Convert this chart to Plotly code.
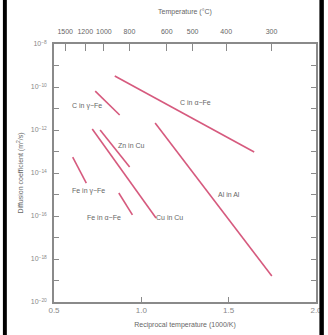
import plotly.graph_objects as go

# ---- data ----
series_names = ["C in α−Fe", "C in γ−Fe", "Zn in Cu", "Cu in Cu", "Al in Al", "Fe in γ−Fe", "Fe in α−Fe"]
x_start = [0.848, 0.736, 0.764, 0.719, 1.079, 0.607, 0.871]
x_end = [1.646, 0.876, 0.933, 1.084, 1.747, 0.685, 0.949]
logD_start = [-9.49, -10.19, -12.00, -11.95, -11.67, -13.26, -14.93]
logD_end = [-13.02, -11.30, -13.72, -16.09, -18.79, -14.47, -15.95]

label_x = [1.309, 0.691, 0.944, 1.163, 1.500, 0.697, 0.787]
label_logD = [-10.74, -10.88, -12.70, -16.05, -15.02, -14.84, -16.09]

x_ticks = [0.5, 1.0, 1.5, 2.0]
y_major_exponents = [-20, -18, -16, -14, -12, -10, -8]
y_minor_exponents = [-19, -17, -15, -13, -11, -9]
temps_C = [1500, 1200, 1000, 800, 600, 500, 400, 300]

# ---- figure ----
line_color = "#d65a7e"
text_color = "#666666"
axis_color = "#8a8a8a"
font_family = "Liberation Sans, Arial, sans-serif"

fig = go.Figure()
for i, name in enumerate(series_names):
    fig.add_trace(go.Scatter(
        x=[x_start[i], x_end[i]],
        y=[10 ** logD_start[i], 10 ** logD_end[i]],
        mode="lines", line=dict(color=line_color, width=1.6),
        name=name, showlegend=False, hoverinfo="skip"))

# invisible trace to hold the top temperature axis
fig.add_trace(go.Scatter(x=[0.5, 2.0], y=[1e-20, 1e-8], xaxis="x2", mode="markers",
                         marker=dict(opacity=0), showlegend=False, hoverinfo="skip"))

for i, name in enumerate(series_names):
    fig.add_annotation(x=label_x[i], y=label_logD[i], text=name, showarrow=False,
                       font=dict(size=7, color=text_color, family=font_family))

top_pos = [1000.0 / (t + 273.0) for t in temps_C]

fig.update_layout(
    width=328, height=335,
    margin=dict(l=54, r=6, t=44, b=33),
    paper_bgcolor="white", plot_bgcolor="white",
    font=dict(family=font_family, size=7, color=text_color),
    xaxis=dict(range=[0.5, 2.0], tickvals=x_ticks, ticktext=["0.5", "1.0", "1.5", "2.0"],
               ticks="inside", ticklen=5, tickcolor=axis_color, showgrid=False, zeroline=False,
               showline=True, linecolor=axis_color, linewidth=1.5, mirror=True,
               title=dict(text="Reciprocal temperature (1000/K)", standoff=8,
                          font=dict(size=7, color=text_color)),
               tickfont=dict(size=8, color="#888888")),
    xaxis2=dict(range=[0.5, 2.0], overlaying="x", side="top", tickvals=top_pos,
                ticktext=[str(t) for t in temps_C], ticks="inside", ticklen=7, tickangle=0,
                ticklabelstandoff=8,
                tickcolor=axis_color, showgrid=False, zeroline=False,
                title=dict(text="Temperature (°C)", standoff=12, font=dict(size=7, color=text_color)),
                tickfont=dict(size=7, color=text_color)),
    yaxis=dict(type="log", range=[-20, -8], tickvals=[10 ** e for e in y_major_exponents],
               ticktext=[f"10<sup>−{-e}</sup>" for e in y_major_exponents],
               ticks="inside", ticklen=5, tickcolor=axis_color,
               minor=dict(tickvals=[10 ** e for e in y_minor_exponents], ticks="inside",
                          ticklen=5, tickcolor=axis_color, showgrid=False),
               showgrid=False, zeroline=False, showline=True, linecolor=axis_color,
               linewidth=1.5, mirror="ticks", ticklabelstandoff=4,
               title=dict(text="Diffusion coefficient (m<sup>2</sup>/s)", standoff=6,
                          font=dict(size=7, color=text_color)),
               tickfont=dict(size=7, color="#888888")),
    shapes=[
        dict(type="rect", xref="paper", yref="paper", x0=-0.195, x1=-0.18, y0=-0.14, y1=1.18,
             fillcolor="black", line=dict(width=0)),
        dict(type="rect", xref="paper", yref="paper", x0=1.013, x1=1.03, y0=-0.14, y1=1.18,
             fillcolor="black", line=dict(width=0)),
    ],
)

post = "document.body.style.margin='0';document.body.style.overflow='hidden';"
fig.write_html("out.html", config={"displayModeBar": False}, post_script=post)
